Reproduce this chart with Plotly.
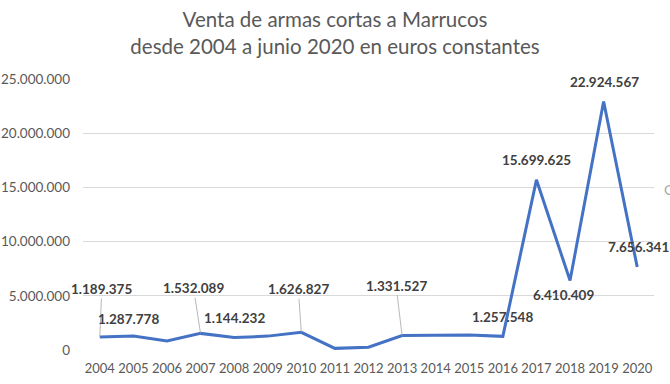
import plotly.graph_objects as go

years = [2004, 2005, 2006, 2007, 2008, 2009, 2010, 2011, 2012, 2013, 2014, 2015, 2016, 2017, 2018, 2019, 2020]
values = [1189375, 1287778, 840000, 1532089, 1144232, 1280000, 1626827, 150000, 250000,
          1331527, 1370000, 1390000, 1257548, 15699625, 6410409, 22924567, 7656341]
year_labels = [str(y) for y in years]
y_tickvals = [0, 5000000, 10000000, 15000000, 20000000, 25000000]
y_ticktext = ["0", "5.000.000", "10.000.000", "15.000.000", "20.000.000", "25.000.000"]

# which points carry a label, and how it is placed (offset px, leader line or not)
labelled = {
    2004: (2, -48, True),
    2005: (-5, -17, False),
    2007: (-7, -45, True),
    2010: (-3, -43, True),
    2008: (0, -20, False),
    2013: (-6, -50, True),
    2016: (0, -19, False),
    2017: (0, -20, False),
    2018: (-7, 14, False),
    2019: (1, -20, False),
    2020: (1, -20, False),
}


def fmt(v):
    return f"{v:,}".replace(",", ".")


fig = go.Figure()
fig.add_trace(go.Scatter(
    x=years, y=values, mode="lines",
    line=dict(color="#4472C4", width=3),
    hoverinfo="skip",
))

annotations = []
for yr, (dx, dy, leader) in labelled.items():
    v = values[years.index(yr)]
    a = dict(
        x=yr, y=v, xref="x", yref="y", text=fmt(v),
        font=dict(family="Lato", size=13.5, color="#404040", weight="bold"),
    )
    if leader:
        a.update(showarrow=True, ax=dx, ay=dy, axref="pixel", ayref="pixel",
                 arrowhead=0, arrowwidth=0.8, arrowcolor="#A6A6A6", standoff=0)
    else:
        a.update(showarrow=False, xshift=dx, yshift=-dy)
    annotations.append(a)

# cropped fragment visible at right edge of the original image
annotations.append(dict(x=1.0, y=0.592, xref="paper", yref="paper", xanchor="left",
                        text="C", showarrow=False, xshift=8,
                        font=dict(family="Lato", size=14, color="#A6A6A6")))

fig.update_layout(
    template="none",
    width=670, height=384,
    margin=dict(l=82.5, r=15.5, t=79.3, b=33.6, autoexpand=False),
    paper_bgcolor="white", plot_bgcolor="white",
    showlegend=False,
    title=dict(
        text="Venta de armas cortas a Marrucos<br>desde 2004 a junio 2020 en euros constantes",
        x=0.5, xanchor="center", y=0.929, yanchor="top",
        font=dict(family="Lato", size=20.5, color="#595959"),
    ),
    xaxis=dict(
        range=[2003.5, 2020.5], tickmode="array", tickvals=years, ticktext=year_labels,
        showgrid=False, zeroline=False, showline=False, ticks="", automargin=False,
        tickfont=dict(family="Lato", size=13, color="#595959"),
        ticklabelstandoff=9,
    ),
    yaxis=dict(
        range=[0, 25000000], tickmode="array", tickvals=y_tickvals, ticktext=y_ticktext,
        showgrid=True, gridcolor="#D9D9D9", gridwidth=1, zeroline=False, showline=False,
        ticks="", automargin=False,
        tickfont=dict(family="Lato", size=13.5, color="#595959"),
        ticklabelstandoff=12,
    ),
    annotations=annotations,
)

fig.write_html(
    "out.html",
    config={"displayModeBar": False},
    post_script="document.body.style.margin='0';document.body.style.overflow='hidden';",
)
